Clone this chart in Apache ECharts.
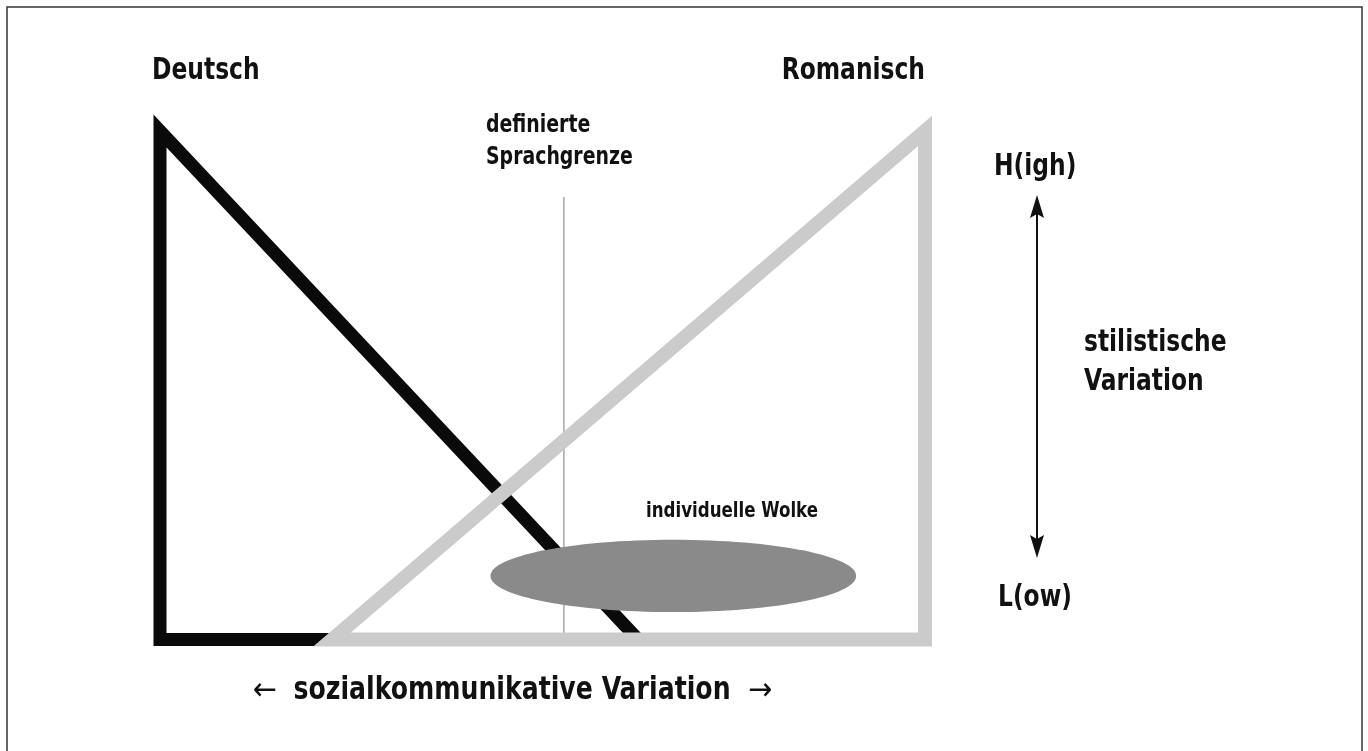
<!DOCTYPE html>
<html>
<head>
<meta charset="utf-8">
<script src="https://cdn.jsdelivr.net/npm/echarts@6/dist/echarts.min.js"></script>
<style>
  html, body { margin: 0; padding: 0; background: #fff; }
  #main { width: 1368px; height: 751px; }
</style>
</head>
<body>
<div id="main"></div>
<script>
// Eckpunkte in Diagrammeinheiten (x: sozialkommunikativ 0..100, y: stilistisch 0..100)
var deutschX = [0, 0, 62.5];
var deutschY = [100, 0, 0];
var romanischX = [22.5, 100, 100];
var romanischY = [0, 0, 100];
var grenzeX = [52.8, 52.8];
var grenzeY = [0, 87];
// individuelle Wolke: Mitte x, Mitte y, Radius x, Radius y
var wolkeMitte = [67.1, 12.5];
var wolkeRadius = [23.9, 7.1];

var FONT = "'Liberation Sans Narrow', 'DejaVu Sans Condensed', 'Roboto', sans-serif";

function pts(xs, ys) {
  return xs.map(function (x, i) { return [x, ys[i]]; });
}

function triangle(xs, ys, color, width, z) {
  return {
    type: 'custom',
    z: z,
    silent: true,
    data: [[xs[0], ys[0]]],
    renderItem: function (params, api) {
      var p = pts(xs, ys).map(function (d) { return api.coord(d); });
      return {
        type: 'polygon',
        shape: { points: p },
        style: {
          fill: 'none',
          stroke: color,
          lineWidth: width,
          lineJoin: 'miter',
          miterLimit: 10
        }
      };
    }
  };
}

// Beschriftung, etwas hoeher gezogen wie die schmale Originalschrift
function label(txt, x, y, size, align) {
  return {
    type: 'text', x: x, y: y, scaleY: 1.15,
    style: {
      text: txt, font: 'bold ' + size + 'px ' + FONT, fill: '#111',
      textAlign: align || 'left', textVerticalAlign: 'middle'
    }
  };
}

var chart = echarts.init(document.getElementById('main'));

var option = {
  animation: false,
  grid: { left: 160, right: 443, top: 131, bottom: 111.5 },
  xAxis: { type: 'value', min: 0, max: 100, show: false },
  yAxis: { type: 'value', min: 0, max: 100, show: false },
  graphic: [
    {
      type: 'rect', z: 0,
      shape: { x: 7, y: 7, width: 1355, height: 800 },
      style: { fill: 'none', stroke: '#333', lineWidth: 1.5 }
    },
    label('Deutsch', 152, 71, 26),
    label('Romanisch', 925, 71, 26, 'right'),
    label('definierte', 486, 126, 21),
    label('Sprachgrenze', 486, 158, 21),
    label('individuelle Wolke', 646, 511, 18.5),
    label('H(igh)', 994, 167, 26),
    label('L(ow)', 998, 598, 26),
    label('stilistische', 1084, 343, 26),
    label('Variation', 1084, 382, 26),
    label('sozialkommunikative Variation', 512, 691, 28, 'center'),
    { type: 'text', x: 253, y: 692, style: { text: '←', font: '32px ' + FONT, fill: '#111', textVerticalAlign: 'middle' } },
    { type: 'text', x: 748, y: 692, style: { text: '→', font: '32px ' + FONT, fill: '#111', textVerticalAlign: 'middle' } },
    // Doppelpfeil stilistische Variation
    {
      type: 'group',
      children: [
        { type: 'line', shape: { x1: 1037, y1: 210, x2: 1037, y2: 542 }, style: { stroke: '#111', lineWidth: 2 } },
        { type: 'polygon', shape: { points: [[1037, 195], [1030, 218], [1037, 214], [1044, 218]] }, style: { fill: '#111' } },
        { type: 'polygon', shape: { points: [[1037, 558], [1030, 535], [1037, 539], [1044, 535]] }, style: { fill: '#111' } }
      ]
    }
  ],
  series: [
    triangle(deutschX, deutschY, '#0a0a0a', 13, 1),
    {
      type: 'line',
      z: 2,
      silent: true,
      symbol: 'none',
      data: pts(grenzeX, grenzeY),
      lineStyle: { color: '#7a7a7a', width: 1 }
    },
    triangle(romanischX, romanischY, '#cbcbcb', 14, 3),
    {
      type: 'custom',
      z: 4,
      silent: true,
      data: [[wolkeMitte[0], wolkeMitte[1], wolkeRadius[0], wolkeRadius[1]]],
      renderItem: function (params, api) {
        var c = api.coord([api.value(0), api.value(1)]);
        var s = api.size([api.value(2), api.value(3)]);
        return {
          type: 'ellipse',
          shape: { cx: c[0], cy: c[1], rx: s[0], ry: s[1] },
          style: { fill: '#8a8a8a' }
        };
      }
    }
  ]
};

chart.setOption(option);
</script>
</body>
</html>
